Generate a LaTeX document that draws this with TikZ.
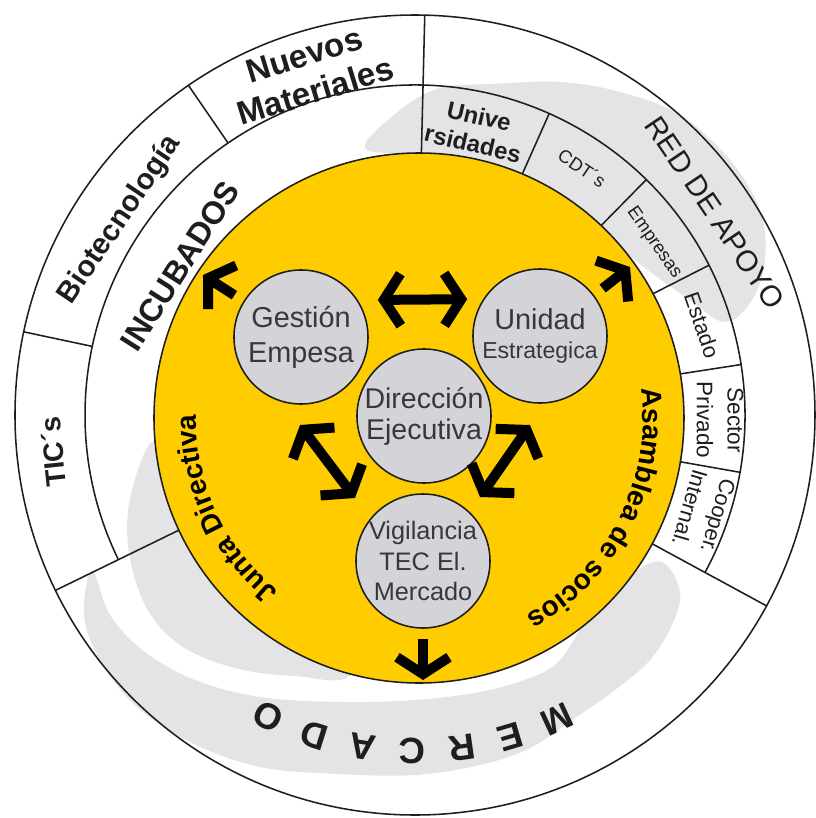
\documentclass[tikz,border=0pt]{standalone}
\usepackage{fontspec}
\setmainfont{Liberation Sans}
\usetikzlibrary{arrows.meta,decorations.text}
\definecolor{gold}{RGB}{255,204,0}
\definecolor{swoosh}{RGB}{228,228,230}
\definecolor{disc}{RGB}{212,212,216}
\definecolor{ink}{RGB}{30,30,30}
\definecolor{softink}{RGB}{55,55,60}

\begin{document}
\begin{tikzpicture}[x=0.025cm,y=0.025cm,
  ring/.style={draw=ink, line width=1.1pt},
  orgcircle/.style={circle, draw=ink, line width=1.1pt, fill=disc,
    minimum size=3.35cm, inner sep=0pt, align=center, text=softink},
  flowone/.style={draw=black, line width=0.25cm,
    -{Straight Barb[length=0.42cm, width=1.3cm]}},
  flowtwo/.style={draw=black, line width=0.25cm,
    {Straight Barb[length=0.42cm, width=1.3cm]}-{Straight Barb[length=0.42cm, width=1.3cm]}},
  bandtext/.style={inner sep=0pt, align=center, text=ink},
  letter/.style={inner sep=0pt, text=ink, font=\bfseries\fontsize{26}{28}\selectfont},
]
\useasboundingbox[fill=white] (-415,-403) rectangle (401,415);

% light grey swoosh behind the rings
\fill[swoosh] plot[smooth cycle, tension=0.6] coordinates {
  (-50,267) (-15,305) (25,327) (75,331) (145,333) (205,323) (265,300)
  (315,255) (345,205) (350,155) (337,115) (310,93) (275,115) (230,147)
  (155,205) (75,245) (5,260)};
\fill[swoosh] plot[smooth cycle, tension=0.6] coordinates {
  (-260,-25) (-283,-75) (-287,-130) (-270,-190) (-235,-230) (-180,-253)
  (-120,-261) (-65,-259) (-85,-185) (-165,-125) (-225,-55)};
\fill[swoosh] plot[smooth cycle, tension=0.6] coordinates {
  (-323,-155) (-331,-200) (-315,-245) (-280,-290) (-225,-327) (-155,-352)
  (-75,-359) (0,-360) (65,-350) (115,-333) (160,-303) (200,-275) (235,-245)
  (257,-210) (265,-177) (247,-147) (215,-160) (175,-200) (145,-245)
  (115,-263) (65,-277) (0,-285) (-75,-287) (-155,-282) (-220,-265)
  (-270,-237) (-305,-200)};

% rings and dividers
\draw[ring] (0,0) circle[radius=400];
\draw[ring] (-28.5:330) arc[start angle=-28.5, end angle=206, radius=330];
\foreach \a in {206,88.6,-28.5} \draw[ring] (\a:250) -- (\a:400);
\foreach \a in {168,124.5} \draw[ring] (\a:330) -- (\a:400);
\foreach \a in {66,45.5,27,8.8,-10} \draw[ring] (\a:250) -- (\a:330);

% yellow core
\coordinate (yc) at (4,-3);
\filldraw[fill=gold, draw=ink, line width=1.1pt] (yc) circle[radius=265];

% outer band labels
\node[bandtext, rotate=96, font=\bfseries\fontsize{20}{24}\selectfont] (tics) at (-362,-37) {TIC´s};
\node[bandtext, rotate=56, font=\bfseries\fontsize{21}{24}\selectfont] (bio) at (-295,195) {Biotecnología};
\node[bandtext, rotate=17, font=\bfseries\fontsize{23.5}{27}\selectfont] (nuevos) at (-105,342) {Nuevos\\Materiales};
\node[bandtext, rotate=57.6, font=\bfseries\fontsize{22.7}{26}\selectfont] (incub) at (-235,149) {INCUBADOS};
\node[bandtext, rotate=-56, font=\fontsize{21}{24}\selectfont] (red) at (34:362) {RED DE APOYO};

% support network segments
\node[bandtext, rotate=-13, font=\bfseries\fontsize{17}{20}\selectfont] (univ) at (61,285) {Unive\\rsidades};
\node[bandtext, rotate=-34, font=\fontsize{13}{15}\selectfont] (cdt) at (167,247) {CDT´s};
\node[bandtext, rotate=-55, font=\fontsize{13}{15}\selectfont] (empr) at (239,172) {Empresas};
\node[bandtext, rotate=-71, font=\fontsize{15.5}{18}\selectfont] (estado) at (287,90) {Estado};
\node[bandtext, rotate=-90, font=\fontsize{16}{22}\selectfont] (sector) at (305,-5) {Sector\\Privado};
\node[bandtext, rotate=-106, font=\fontsize{15.5}{21}\selectfont] (coop) at (289,-97) {Cooper.\\Internal.};

% market letters, upside down along the bottom
\foreach \ch/\a [count=\i] in {M/-65,E/-73.5,R/-82,C/-90.5,A/-99,D/-107.5,O/-116}
  \node[letter, rotate=\a-90] (merc\i) at (\a:336) {\ch};

% curved labels inside the core
\path[shift={(4,-3)}, decorate, decoration={text along path, text align=center,
  text={|\bfseries\fontsize{20}{24}\selectfont|Junta Directiva}}]
  (250:223) arc[start angle=250, end angle=160, radius=223];
\path[shift={(4,-3)}, decorate, decoration={text along path, text align=center,
  text={|\bfseries\fontsize{20}{24}\selectfont|Asamblea de socios}}]
  (20:224) arc[start angle=20, end angle=-74, radius=224];

% units
\node[orgcircle, font=\fontsize{20.5}{25}\selectfont] (gestion) at (-114,78) {Gestión\\Empesa};
\node[orgcircle, font=\fontsize{20.5}{20}\selectfont] (unidad) at (125,79) {Unidad\\{\fontsize{16.4}{19}\selectfont Estrategica}};
\node[orgcircle, font=\fontsize{20.3}{22}\selectfont] (direccion) at (9,-1) {Dirección\\Ejecutiva};
\node[orgcircle, font=\fontsize{18}{21.5}\selectfont] (vigil) at (8,-146) {Vigilancia\\TEC El.\\Mercado};

% flows
\coordinate (gtip) at (-212,140);
\coordinate (utip) at (215,148);
\coordinate (la) at (-115,-10);
\coordinate (lb) at (-60,-83);
\coordinate (ra) at (115,-10);
\coordinate (rb) at (65,-82);
\coordinate (dtip) at (8,-265);
\draw[flowtwo, shorten <=0.5cm, shorten >=0.4cm] (gestion.33) -- (unidad.147);
\draw[flowone, shorten <=0.27cm] (gestion.148) -- (gtip);
\draw[flowone, shorten <=0.27cm] (unidad.37) -- (utip);
\draw[flowtwo] (la) -- (lb);
\draw[flowtwo] (ra) -- (rb);
\draw[flowone, shorten <=0.25cm] (vigil.south) -- (dtip);
\end{tikzpicture}
\end{document}
